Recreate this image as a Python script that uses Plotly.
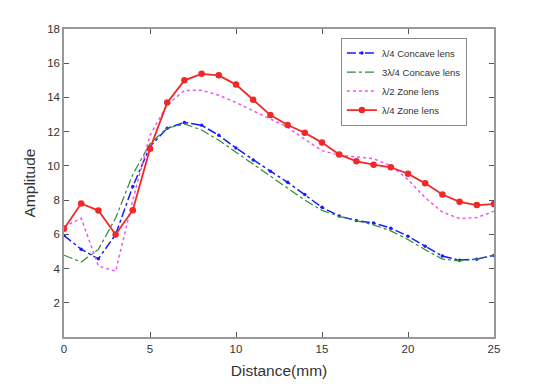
import plotly.graph_objects as go

distance = list(range(26))
concave_q = [5.93, 5.13, 4.57, 5.99, 8.80, 11.13, 12.20, 12.54, 12.37, 11.79, 11.04, 10.35, 9.69,
             9.04, 8.33, 7.58, 7.07, 6.81, 6.66, 6.36, 5.89, 5.31, 4.73, 4.49, 4.55, 4.77]
concave_3q = [4.78, 4.38, 5.12, 6.95, 9.50, 11.30, 12.20, 12.45, 12.10, 11.50, 10.80, 10.10, 9.40,
              8.70, 8.00, 7.40, 7.05, 6.80, 6.55, 6.20, 5.70, 5.10, 4.55, 4.45, 4.55, 4.80]
zone_half = [6.45, 6.94, 4.15, 3.84, 8.00, 11.80, 13.57, 14.41, 14.42, 14.13, 13.70, 13.23, 12.76,
             12.26, 11.56, 10.89, 10.63, 10.52, 10.42, 10.01, 9.20, 8.14, 7.30, 6.92, 6.98, 7.35]
zone_q = [6.32, 7.80, 7.39, 5.99, 7.41, 11.00, 13.70, 15.00, 15.38, 15.29, 14.75, 13.87, 12.97,
          12.39, 11.94, 11.36, 10.67, 10.27, 10.07, 9.92, 9.54, 8.98, 8.33, 7.90, 7.71, 7.77]

names = ["λ/4 Concave lens", "3λ/4 Concave lens", "λ/2 Zone lens", "λ/4 Zone lens"]

fig = go.Figure()
fig.add_trace(go.Scatter(x=distance, y=concave_q, name=names[0], mode="lines+markers",
                         line=dict(color="#1a1aff", width=1.5, dash="dashdot"),
                         marker=dict(size=3.5, color="#1a1aff")))
fig.add_trace(go.Scatter(x=distance, y=concave_3q, name=names[1], mode="lines",
                         line=dict(color="#2e8b3a", width=1.2, dash="dashdot")))
fig.add_trace(go.Scatter(x=distance, y=zone_half, name=names[2], mode="lines",
                         line=dict(color="#ee55ee", width=1.5, dash="dot")))
fig.add_trace(go.Scatter(x=distance, y=zone_q, name=names[3], mode="lines+markers",
                         line=dict(color="#f02828", width=1.8),
                         marker=dict(size=6.5, color="#f02828")))

axis_common = dict(showgrid=False, zeroline=False, showline=True, mirror="ticks",
                   linecolor="#999999", linewidth=1.5, ticks="inside", ticklen=5,
                   tickcolor="#555555", tickfont=dict(family="Liberation Sans, Arial", size=11.5, color="#333333"))

fig.update_layout(
    width=541, height=389,
    margin=dict(l=64, r=47, t=29, b=39),
    paper_bgcolor="white", plot_bgcolor="white",
    font=dict(family="Liberation Sans, Arial", color="#333333"),
    xaxis=dict(range=[0, 25], tickvals=[0, 5, 10, 15, 20, 25],
               title=dict(text="Distance(mm)", font=dict(size=15.5), standoff=12), **axis_common),
    yaxis=dict(range=[0, 18], tickvals=[2, 4, 6, 8, 10, 12, 14, 16, 18],
               title=dict(text="Amplitude", font=dict(size=15.5), standoff=8), **axis_common),
    legend=dict(x=0.644, y=0.972, xanchor="left", yanchor="top", bgcolor="white",
                bordercolor="#888888", borderwidth=1, font=dict(size=9.5, color="#333333"),
                tracegroupgap=0, itemwidth=30),
    showlegend=True,
)

fig.write_html("out.html")
